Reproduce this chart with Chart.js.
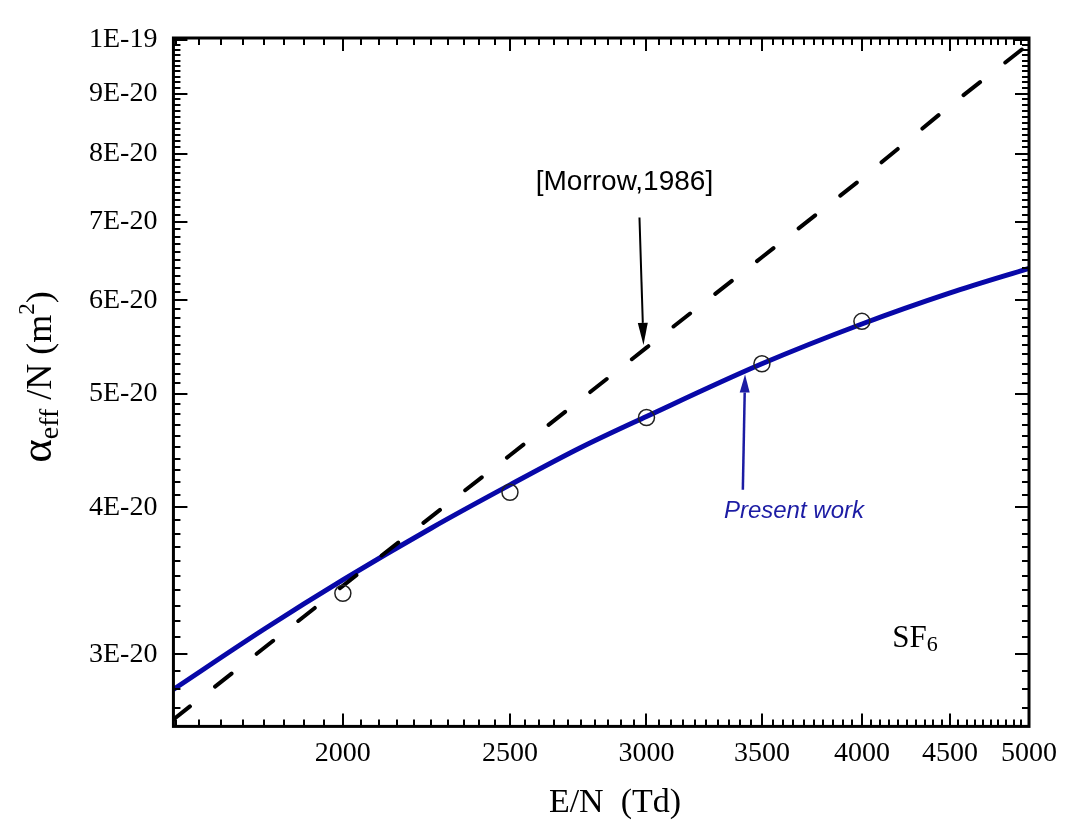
<!DOCTYPE html>
<html>
<head>
<meta charset="utf-8">
<script src="https://cdn.jsdelivr.net/npm/chart.js@4.4.1/dist/chart.umd.min.js"></script>
<style>
  html, body { margin: 0; padding: 0; background: #fff; }
  canvas { display: block; }
</style>
</head>
<body>
<canvas id="chart" width="1067" height="822"></canvas>
<script>
// effective ionization coefficient of SF6, alpha_eff/N (m^2) vs E/N (Td)

// calculated points (open circles)
const pointField = [2000, 2500, 3000, 3500, 4000]
const pointAlpha = [3.38e-20, 4.12e-20, 4.77e-20, 5.30e-20, 5.76e-20]

// present work, fitted curve
const fitField = [1595, 1800, 2000, 2250, 2500, 2750, 3000, 3500, 4000, 4500, 5000]
const fitAlpha = [2.80e-20, 3.15e-20, 3.47e-20, 3.84e-20, 4.18e-20, 4.50e-20, 4.78e-20, 5.30e-20, 5.73e-20, 6.09e-20, 6.39e-20]

// Morrow 1986
const morrowField = [1595, 2000, 2500, 3000, 3500, 4000, 4500, 5000]
const morrowAlpha = [2.64e-20, 3.43e-20, 4.43e-20, 5.47e-20, 6.53e-20, 7.62e-20, 8.79e-20, 9.92e-20]

// axis ticks
const xMajorTicks = [2000, 2500, 3000, 3500, 4000, 4500, 5000]
const xTickLabels = ['2000', '2500', '3000', '3500', '4000', '4500', '5000']
const yMajorTicks = [3e-20, 4e-20, 5e-20, 6e-20, 7e-20, 8e-20, 9e-20, 1e-19]
const yTickLabels = ['3E-20', '4E-20', '5E-20', '6E-20', '7E-20', '8E-20', '9E-20', '1E-19']

const X_MIN = 1595
const X_MAX = 5000
const Y_MIN = 2.604e-20
const Y_MAX = 1.0036e-19

const BLUE = '#0808a8'
const SERIF = "'Liberation Serif', 'Times New Roman', serif"
const SANS = "'Liberation Sans', Arial, sans-serif"

// minor ticks: every 50 Td and every 1E-21
const xMinorTicks = []
for (let v = 1600; v < X_MAX; v += 50) {
    if (!xMajorTicks.includes(v)) xMinorTicks.push(v)
}
const yMinorTicks = []
for (let k = 27; k < 100; k++) {
    if (k % 10 !== 0) yMinorTicks.push(k * 1e-21)
}

function matchIndex(list, v) {
    return list.findIndex((t) => Math.abs(t - v) / t < 1e-6)
}

function toXY(xs, ys) {
    return xs.map((x, i) => ({ x: x, y: ys[i] }))
}

function drawArrow(ctx, x0, y0, x1, y1, color, width, headLen, headHalf) {
    const ang = Math.atan2(y1 - y0, x1 - x0)
    const bx = x1 - headLen * Math.cos(ang)
    const by = y1 - headLen * Math.sin(ang)
    ctx.save()
    ctx.strokeStyle = color
    ctx.fillStyle = color
    ctx.lineWidth = width
    ctx.beginPath()
    ctx.moveTo(x0, y0)
    ctx.lineTo(bx, by)
    ctx.stroke()
    ctx.beginPath()
    ctx.moveTo(x1, y1)
    ctx.lineTo(bx + headHalf * Math.sin(ang), by - headHalf * Math.cos(ang))
    ctx.lineTo(bx - headHalf * Math.sin(ang), by + headHalf * Math.cos(ang))
    ctx.closePath()
    ctx.fill()
    ctx.restore()
}

// draws a run of text pieces, each with its own size, font and baseline shift
function drawPieces(ctx, pieces, x, y, align) {
    let total = 0
    pieces.forEach((p) => {
        ctx.font = p.font
        p.w = ctx.measureText(p.t).width
        total += p.w
    })
    let cx = align === 'center' ? x - total / 2 : x
    ctx.textAlign = 'left'
    ctx.textBaseline = 'alphabetic'
    pieces.forEach((p) => {
        ctx.font = p.font
        ctx.fillText(p.t, cx, y + (p.dy || 0))
        cx += p.w
    })
}

const backgroundPlugin = {
    id: 'background',
    beforeDraw(chart) {
        const ctx = chart.ctx
        ctx.save()
        ctx.fillStyle = '#fff'
        ctx.fillRect(0, 0, chart.width, chart.height)
        ctx.restore()
    },
}

// Origin-like frame with inward ticks on all four sides, plus the notes
const framePlugin = {
    id: 'frame',
    afterDraw(chart) {
        const ctx = chart.ctx
        const a = chart.chartArea
        const xs = chart.scales.x
        const ys = chart.scales.y
        ctx.save()
        ctx.strokeStyle = '#000'
        ctx.lineCap = 'butt'

        ctx.lineWidth = 2
        const xTick = (v, len) => {
            const px = Math.round(xs.getPixelForValue(v))
            ctx.beginPath()
            ctx.moveTo(px, a.bottom)
            ctx.lineTo(px, a.bottom - len)
            ctx.moveTo(px, a.top)
            ctx.lineTo(px, a.top + len)
            ctx.stroke()
        }
        const yTick = (v, len) => {
            const py = Math.round(ys.getPixelForValue(v))
            ctx.beginPath()
            ctx.moveTo(a.left, py)
            ctx.lineTo(a.left + len, py)
            ctx.moveTo(a.right, py)
            ctx.lineTo(a.right - len, py)
            ctx.stroke()
        }
        xMinorTicks.forEach((v) => xTick(v, 7))
        xMajorTicks.forEach((v) => xTick(v, 13))
        yMinorTicks.forEach((v) => yTick(v, 7))
        yMajorTicks.forEach((v) => yTick(v, 14))

        ctx.lineWidth = 3
        ctx.strokeRect(a.left, a.top, a.right - a.left, a.bottom - a.top)

        // [Morrow,1986] note and arrow
        ctx.fillStyle = '#000'
        ctx.font = '28px ' + SANS
        ctx.textAlign = 'center'
        ctx.textBaseline = 'middle'
        ctx.fillText('[Morrow,1986]', xs.getPixelForValue(2913), ys.getPixelForValue(7.56e-20))
        drawArrow(ctx,
            xs.getPixelForValue(2972), ys.getPixelForValue(7.06e-20),
            xs.getPixelForValue(2988), ys.getPixelForValue(5.50e-20),
            '#000', 2, 22, 5)

        // Present work note and arrow
        ctx.fillStyle = '#1c1ca4'
        ctx.font = 'italic 24px ' + SANS
        ctx.fillText('Present work', xs.getPixelForValue(3653), ys.getPixelForValue(3.97e-20))
        drawArrow(ctx,
            xs.getPixelForValue(3412), ys.getPixelForValue(4.14e-20),
            xs.getPixelForValue(3422), ys.getPixelForValue(5.19e-20),
            '#1c1ca4', 2.5, 18, 5)

        // gas label
        ctx.fillStyle = '#000'
        drawPieces(ctx, [
            { t: 'SF', font: '31px ' + SERIF },
            { t: '6', font: '22px ' + SERIF, dy: 4 },
        ], xs.getPixelForValue(4294), ys.getPixelForValue(3.11e-20) + 11, 'center')

        // x axis title
        ctx.font = '34px ' + SERIF
        ctx.textAlign = 'center'
        ctx.textBaseline = 'alphabetic'
        ctx.fillText('E/N  (Td)', 615, 812)

        // y axis title, rotated
        ctx.translate(51, 377)
        ctx.rotate(-Math.PI / 2)
        drawPieces(ctx, [
            { t: 'α', font: '45px ' + SERIF },
            { t: 'eff', font: '28px ' + SERIF, dy: 7 },
            { t: ' /N (m', font: '36px ' + SERIF },
            { t: '2', font: '23px ' + SERIF, dy: -17 },
            { t: ')', font: '36px ' + SERIF },
        ], 0, 0, 'center')
        ctx.restore()
    },
}

const tickFont = { family: SERIF, size: 28 }

new Chart(document.getElementById('chart'), {
    type: 'scatter',
    data: {
        datasets: [
            {
                label: 'Present work',
                data: toXY(fitField, fitAlpha),
                showLine: true,
                borderColor: BLUE,
                borderWidth: 5,
                pointRadius: 0,
                cubicInterpolationMode: 'monotone',
                order: 3,
            },
            {
                label: '[Morrow,1986]',
                data: toXY(morrowField, morrowAlpha),
                showLine: true,
                borderColor: '#000',
                borderWidth: 4,
                borderDash: [21, 32],
                borderCapStyle: 'round',
                pointRadius: 0,
                order: 2,
            },
            {
                label: 'calculated',
                data: toXY(pointField, pointAlpha),
                showLine: false,
                pointRadius: 8,
                pointBorderColor: '#222',
                pointBorderWidth: 1.5,
                pointBackgroundColor: 'rgba(0,0,0,0)',
                order: 1,
            },
        ],
    },
    options: {
        responsive: false,
        animation: false,
        devicePixelRatio: 1,
        layout: {
            padding: { left: 73, right: 38, top: 38, bottom: 42 },
        },
        plugins: {
            legend: { display: false },
            tooltip: { enabled: false },
        },
        scales: {
            x: {
                type: 'logarithmic',
                min: X_MIN,
                max: X_MAX,
                afterBuildTicks: (scale) => {
                    scale.ticks = xMajorTicks.map((v) => ({ value: v }))
                },
                ticks: {
                    autoSkip: false,
                    maxRotation: 0,
                    minRotation: 0,
                    padding: 10,
                    color: '#000',
                    font: tickFont,
                    callback: (v) => {
                        const i = matchIndex(xMajorTicks, v)
                        return i >= 0 ? xTickLabels[i] : ''
                    },
                },
                grid: { display: false, drawTicks: false },
                border: { display: false },
            },
            y: {
                type: 'logarithmic',
                min: Y_MIN,
                max: Y_MAX,
                afterBuildTicks: (scale) => {
                    scale.ticks = yMajorTicks.map((v) => ({ value: v }))
                },
                ticks: {
                    autoSkip: false,
                    padding: 16,
                    color: '#000',
                    font: tickFont,
                    callback: (v) => {
                        const i = matchIndex(yMajorTicks, v)
                        return i >= 0 ? yTickLabels[i] : ''
                    },
                },
                grid: { display: false, drawTicks: false },
                border: { display: false },
            },
        },
    },
    plugins: [backgroundPlugin, framePlugin],
})
</script>
</body>
</html>
